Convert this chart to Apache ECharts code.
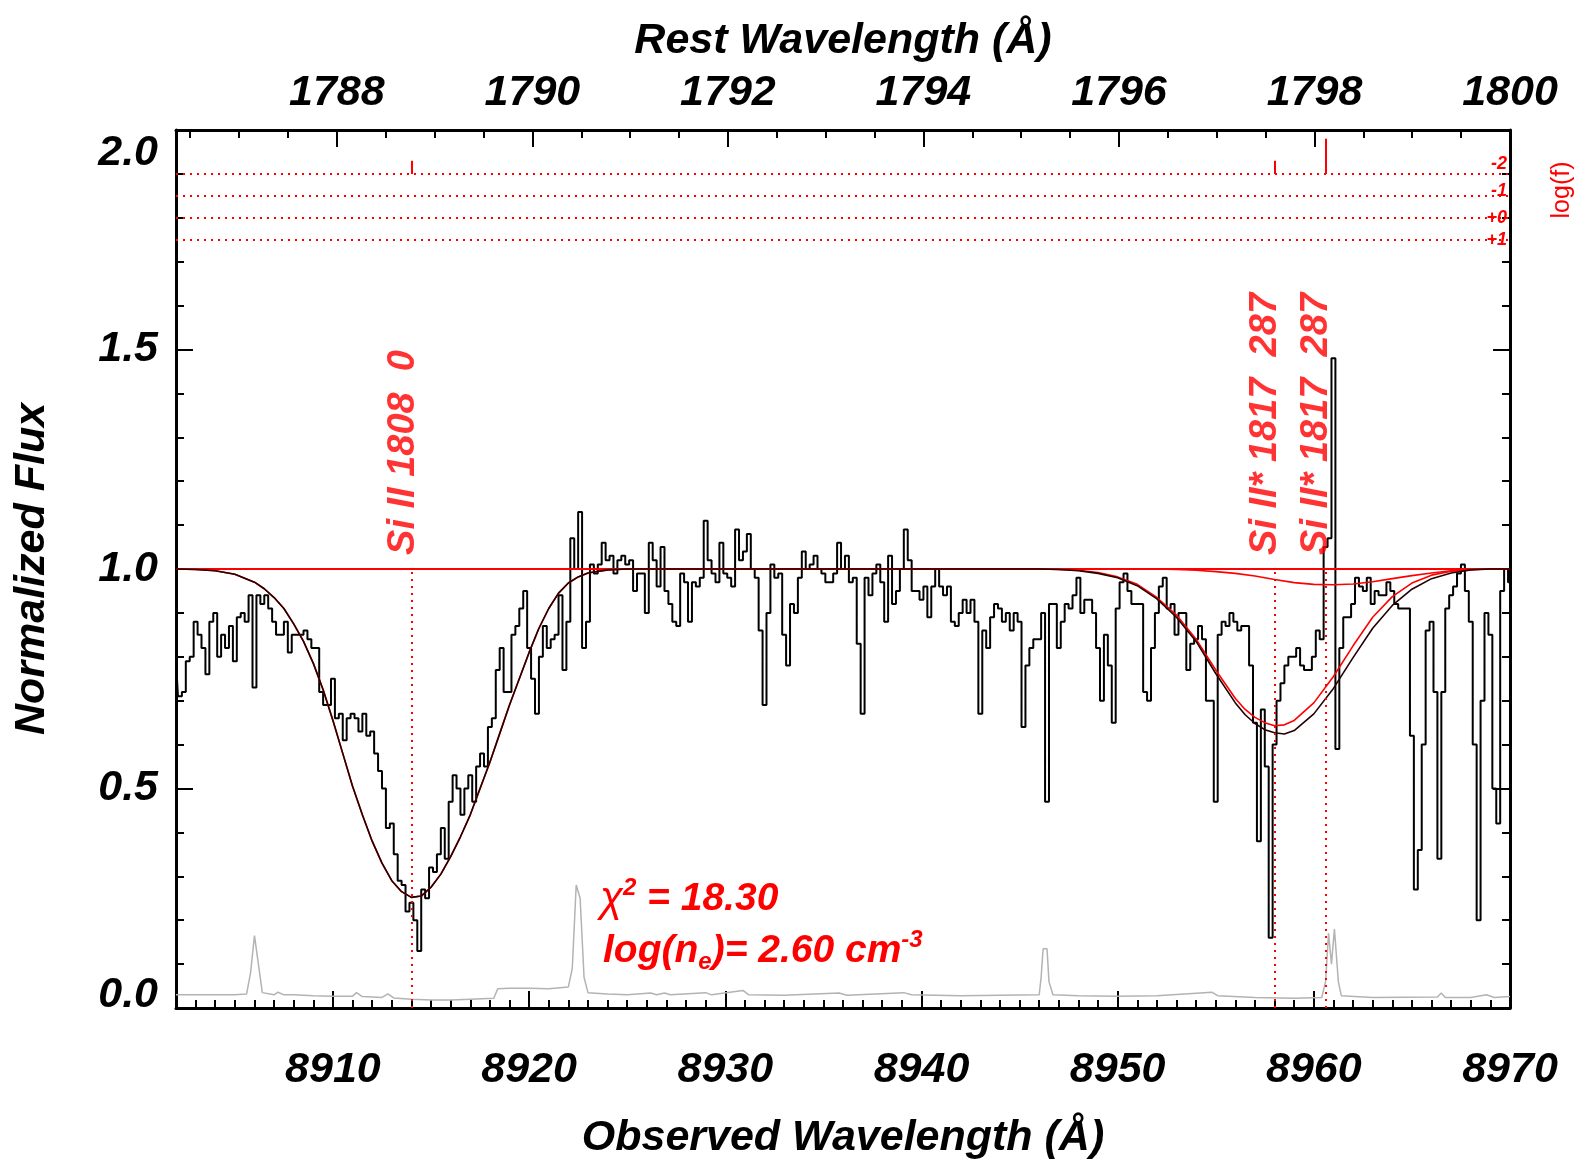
<!DOCTYPE html>
<html>
<head>
<meta charset="utf-8">
<title>Si II density fit</title>
<script src="https://cdn.jsdelivr.net/npm/echarts@6.0.0/dist/echarts.min.js"></script>
<style>
  html, body { margin: 0; padding: 0; background: #fff; }
  #chart { width: 1594px; height: 1174px; }
</style>
</head>
<body>
<div id="chart"></div>
<script>
// observed spectrum, normalized flux, 0.2 A pixels
const specWave = [
  8902.0, 8902.2, 8902.4, 8902.6, 8902.8, 8903.0, 8903.2, 8903.4, 8903.6, 8903.8,
  8904.0, 8904.2, 8904.4, 8904.6, 8904.8, 8905.0, 8905.2, 8905.4, 8905.6, 8905.8,
  8906.0, 8906.2, 8906.4, 8906.6, 8906.8, 8907.0, 8907.2, 8907.4, 8907.6, 8907.8,
  8908.0, 8908.2, 8908.4, 8908.6, 8908.8, 8909.0, 8909.2, 8909.4, 8909.6, 8909.8,
  8910.0, 8910.2, 8910.4, 8910.6, 8910.8, 8911.0, 8911.2, 8911.4, 8911.6, 8911.8,
  8912.0, 8912.2, 8912.4, 8912.6, 8912.8, 8913.0, 8913.2, 8913.4, 8913.6, 8913.8,
  8914.0, 8914.2, 8914.4, 8914.6, 8914.8, 8915.0, 8915.2, 8915.4, 8915.6, 8915.8,
  8916.0, 8916.2, 8916.4, 8916.6, 8916.8, 8917.0, 8917.2, 8917.4, 8917.6, 8917.8,
  8918.0, 8918.2, 8918.4, 8918.6, 8918.8, 8919.0, 8919.2, 8919.4, 8919.6, 8919.8,
  8920.0, 8920.2, 8920.4, 8920.6, 8920.8, 8921.0, 8921.2, 8921.4, 8921.6, 8921.8,
  8922.0, 8922.2, 8922.4, 8922.6, 8922.8, 8923.0, 8923.2, 8923.4, 8923.6, 8923.8,
  8924.0, 8924.2, 8924.4, 8924.6, 8924.8, 8925.0, 8925.2, 8925.4, 8925.6, 8925.8,
  8926.0, 8926.2, 8926.4, 8926.6, 8926.8, 8927.0, 8927.2, 8927.4, 8927.6, 8927.8,
  8928.0, 8928.2, 8928.4, 8928.6, 8928.8, 8929.0, 8929.2, 8929.4, 8929.6, 8929.8,
  8930.0, 8930.2, 8930.4, 8930.6, 8930.8, 8931.0, 8931.2, 8931.4, 8931.6, 8931.8,
  8932.0, 8932.2, 8932.4, 8932.6, 8932.8, 8933.0, 8933.2, 8933.4, 8933.6, 8933.8,
  8934.0, 8934.2, 8934.4, 8934.6, 8934.8, 8935.0, 8935.2, 8935.4, 8935.6, 8935.8,
  8936.0, 8936.2, 8936.4, 8936.6, 8936.8, 8937.0, 8937.2, 8937.4, 8937.6, 8937.8,
  8938.0, 8938.2, 8938.4, 8938.6, 8938.8, 8939.0, 8939.2, 8939.4, 8939.6, 8939.8,
  8940.0, 8940.2, 8940.4, 8940.6, 8940.8, 8941.0, 8941.2, 8941.4, 8941.6, 8941.8,
  8942.0, 8942.2, 8942.4, 8942.6, 8942.8, 8943.0, 8943.2, 8943.4, 8943.6, 8943.8,
  8944.0, 8944.2, 8944.4, 8944.6, 8944.8, 8945.0, 8945.2, 8945.4, 8945.6, 8945.8,
  8946.0, 8946.2, 8946.4, 8946.6, 8946.8, 8947.0, 8947.2, 8947.4, 8947.6, 8947.8,
  8948.0, 8948.2, 8948.4, 8948.6, 8948.8, 8949.0, 8949.2, 8949.4, 8949.6, 8949.8,
  8950.0, 8950.2, 8950.4, 8950.6, 8950.8, 8951.0, 8951.2, 8951.4, 8951.6, 8951.8,
  8952.0, 8952.2, 8952.4, 8952.6, 8952.8, 8953.0, 8953.2, 8953.4, 8953.6, 8953.8,
  8954.0, 8954.2, 8954.4, 8954.6, 8954.8, 8955.0, 8955.2, 8955.4, 8955.6, 8955.8,
  8956.0, 8956.2, 8956.4, 8956.6, 8956.8, 8957.0, 8957.2, 8957.4, 8957.6, 8957.8,
  8958.0, 8958.2, 8958.4, 8958.6, 8958.8, 8959.0, 8959.2, 8959.4, 8959.6, 8959.8,
  8960.0, 8960.2, 8960.4, 8960.6, 8960.8, 8961.0, 8961.2, 8961.4, 8961.6, 8961.8,
  8962.0, 8962.2, 8962.4, 8962.6, 8962.8, 8963.0, 8963.2, 8963.4, 8963.6, 8963.8,
  8964.0, 8964.2, 8964.4, 8964.6, 8964.8, 8965.0, 8965.2, 8965.4, 8965.6, 8965.8,
  8966.0, 8966.2, 8966.4, 8966.6, 8966.8, 8967.0, 8967.2, 8967.4, 8967.6, 8967.8,
  8968.0, 8968.2, 8968.4, 8968.6, 8968.8, 8969.0, 8969.2, 8969.4, 8969.6, 8969.8,
  8970.0
];
const specFlux = [
  0.79, 0.71, 0.72, 0.79, 0.80, 0.88, 0.85, 0.82, 0.76, 0.88,
  0.90, 0.80, 0.85, 0.82, 0.87, 0.79, 0.89, 0.90, 0.88, 0.94,
  0.73, 0.94, 0.92, 0.94, 0.91, 0.88, 0.85, 0.85, 0.88, 0.81,
  0.85, 0.85, 0.85, 0.86, 0.84, 0.82, 0.82, 0.72, 0.69, 0.69,
  0.75, 0.66, 0.67, 0.61, 0.66, 0.67, 0.66, 0.63, 0.67, 0.62,
  0.63, 0.58, 0.54, 0.50, 0.41, 0.42, 0.35, 0.29, 0.28, 0.22,
  0.24, 0.20, 0.13, 0.27, 0.25, 0.32, 0.31, 0.35, 0.41, 0.34,
  0.47, 0.53, 0.50, 0.44, 0.50, 0.53, 0.47, 0.55, 0.58, 0.55,
  0.64, 0.66, 0.77, 0.82, 0.72, 0.72, 0.85, 0.87, 0.91, 0.95,
  0.82, 0.75, 0.67, 0.80, 0.87, 0.82, 0.84, 0.85, 0.94, 0.77,
  0.88, 1.07, 1.00, 1.13, 0.82, 0.88, 1.01, 0.99, 1.01, 1.06,
  1.02, 1.03, 0.99, 1.02, 1.03, 1.01, 1.02, 0.95, 0.99, 0.99,
  0.90, 1.06, 1.02, 0.96, 1.05, 0.95, 0.92, 0.88, 0.87, 0.99,
  0.97, 0.88, 0.97, 0.96, 0.98, 1.11, 1.02, 0.99, 0.97, 1.06,
  0.99, 0.98, 0.96, 1.09, 1.02, 1.04, 1.08, 1.00, 0.98, 0.86,
  0.69, 0.90, 1.01, 0.98, 0.99, 0.85, 0.78, 0.92, 0.90, 0.98,
  1.04, 1.00, 1.01, 1.03, 1.00, 0.99, 0.97, 0.97, 0.99, 1.06,
  1.00, 1.03, 0.97, 0.98, 0.83, 0.67, 0.98, 0.94, 0.99, 1.01,
  0.97, 0.88, 1.03, 0.92, 0.95, 1.00, 1.09, 1.02, 0.95, 0.95,
  0.93, 0.96, 0.89, 0.96, 1.00, 0.96, 0.94, 0.96, 0.88, 0.87,
  0.90, 0.93, 0.90, 0.93, 0.88, 0.67, 0.86, 0.82, 0.89, 0.92,
  0.91, 0.88, 0.90, 0.86, 0.90, 0.88, 0.64, 0.78, 0.82, 0.84,
  0.84, 0.90, 0.47, 0.92, 0.92, 0.82, 0.88, 0.92, 0.91, 0.94,
  0.98, 0.90, 0.93, 0.93, 0.90, 0.82, 0.70, 0.85, 0.78, 0.65,
  0.91, 0.97, 0.99, 0.95, 0.92, 0.92, 0.92, 0.72, 0.70, 0.82,
  0.90, 0.96, 0.98, 0.91, 0.92, 0.85, 0.90, 0.90, 0.77, 0.83,
  0.84, 0.87, 0.84, 0.70, 0.70, 0.47, 0.85, 0.88, 0.87, 0.90,
  0.88, 0.86, 0.87, 0.87, 0.78, 0.65, 0.38, 0.68, 0.55, 0.16,
  0.60, 0.70, 0.74, 0.78, 0.80, 0.80, 0.82, 0.78, 0.77, 0.77,
  0.80, 0.86, 0.84, 1.05, 1.07, 1.48, 0.59, 0.82, 0.89, 0.89,
  0.92, 0.98, 0.96, 0.95, 0.98, 0.92, 0.95, 0.94, 0.94, 0.97,
  0.95, 0.92, 0.91, 0.91, 0.91, 0.62, 0.27, 0.36, 0.60, 0.86,
  0.88, 0.72, 0.34, 0.72, 0.91, 0.94, 0.96, 0.99, 1.01, 0.95,
  0.88, 0.60, 0.20, 0.70, 0.90, 0.85, 0.50, 0.42, 0.95, 1.00,
  0.97
];

// error spectrum (grey)
const errWave = [
  8902, 8903, 8904, 8905, 8905.6, 8905.8, 8906.0, 8906.2, 8906.4, 8907,
  8907.2, 8907.5, 8908, 8909, 8910, 8911, 8911.2, 8911.5, 8912.5, 8912.8,
  8913.1, 8914, 8915, 8916, 8917, 8918.2, 8918.4, 8919, 8920, 8921,
  8922.0, 8922.2, 8922.4, 8922.6, 8922.8, 8923.0, 8924, 8925, 8926.2, 8926.5,
  8926.9, 8927.2, 8929.0, 8929.3, 8930.9, 8931.2, 8933, 8935.8, 8936.2, 8939.1,
  8939.5, 8942, 8944, 8946.0, 8946.1, 8946.2, 8946.4, 8946.5, 8946.7, 8948,
  8950, 8952, 8954.8, 8955.1, 8957, 8959, 8960.4, 8960.6, 8960.75, 8960.9,
  8961.05, 8961.25, 8961.4, 8963, 8966.3, 8966.5, 8966.7, 8968, 8968.8, 8969.2,
  8970
];
const errFlux = [
  0.030, 0.030, 0.030, 0.030, 0.032, 0.080, 0.165, 0.100, 0.035, 0.030,
  0.036, 0.030, 0.030, 0.028, 0.027, 0.027, 0.035, 0.026, 0.024, 0.032,
  0.023, 0.020, 0.018, 0.018, 0.020, 0.022, 0.044, 0.045, 0.045, 0.044,
  0.048, 0.090, 0.280, 0.250, 0.070, 0.035, 0.032, 0.030, 0.034, 0.030,
  0.034, 0.030, 0.035, 0.030, 0.040, 0.030, 0.029, 0.034, 0.029, 0.035,
  0.030, 0.028, 0.029, 0.030, 0.070, 0.135, 0.135, 0.060, 0.030, 0.028,
  0.027, 0.028, 0.036, 0.028, 0.024, 0.022, 0.024, 0.060, 0.170, 0.100,
  0.180, 0.060, 0.028, 0.024, 0.025, 0.034, 0.024, 0.024, 0.030, 0.024,
  0.026
];

// continuum
const contWave = [8902, 8970];
const contFlux = [1.0, 1.0];

// Si II 1808 model component
const siWave = [
  8902, 8903, 8904, 8905, 8906, 8906.5, 8907, 8907.5, 8908, 8908.5,
  8909, 8909.5, 8910, 8910.5, 8911, 8911.5, 8912, 8912.5, 8913, 8913.5,
  8914, 8914.5, 8915, 8915.5, 8916, 8916.5, 8917, 8917.5, 8918, 8918.5,
  8919, 8919.5, 8920, 8920.5, 8921, 8921.5, 8922, 8922.5, 8923, 8924,
  8925
];
const siFlux = [
  1.000, 0.999, 0.996, 0.988, 0.970, 0.955, 0.935, 0.910, 0.875, 0.835,
  0.785, 0.725, 0.655, 0.580, 0.505, 0.440, 0.380, 0.330, 0.290, 0.265,
  0.252, 0.255, 0.275, 0.305, 0.345, 0.390, 0.440, 0.500, 0.560, 0.625,
  0.690, 0.750, 0.810, 0.865, 0.910, 0.945, 0.968, 0.982, 0.991, 0.998,
  1.000
];

// Si II* 1817 main component
const starWave = [
  8946, 8947, 8948, 8949, 8950, 8951, 8952, 8953, 8954, 8955,
  8956, 8956.5, 8957, 8957.5, 8958, 8958.5, 8959, 8960, 8961, 8962,
  8963, 8964, 8965, 8966, 8967, 8968, 8969, 8970
];
const starFlux = [
  1.000, 0.999, 0.997, 0.992, 0.982, 0.965, 0.935, 0.895, 0.840, 0.770,
  0.705, 0.680, 0.662, 0.650, 0.643, 0.645, 0.655, 0.695, 0.755, 0.825,
  0.890, 0.937, 0.968, 0.986, 0.995, 0.999, 1.000, 1.000
];
// total model over the Si II* region
const starTotalFlux = [
  1.000, 0.999, 0.996, 0.990, 0.980, 0.962, 0.932, 0.890, 0.835, 0.762,
  0.695, 0.668, 0.648, 0.634, 0.627, 0.624, 0.632, 0.670, 0.728, 0.798,
  0.865, 0.917, 0.954, 0.978, 0.991, 0.998, 1.000, 1.000
];

// Si II* 1817 weak component
const weakWave = [
  8952, 8953, 8954, 8955, 8956, 8957, 8958, 8959, 8960, 8961,
  8962, 8963, 8964, 8965, 8966, 8967, 8968, 8969, 8970
];
const weakFlux = [
  1.000, 0.999, 0.997, 0.994, 0.990, 0.984, 0.976, 0.969, 0.965, 0.964,
  0.966, 0.971, 0.978, 0.985, 0.991, 0.996, 0.999, 1.000, 1.000
];

// transitions
const lineWaves = [8914.04, 8958.01, 8960.6];
const lineLabels = ['Si II 1808  0', 'Si II* 1817  287', 'Si II* 1817  287'];
const lineTickTop = [1.93, 1.93, 1.98];
const fLevels = [1.90, 1.85, 1.80, 1.75];
const fLabels = ['-2', '-1', '+0', '+1'];

// axis ticks
const obsMajor = [8910, 8920, 8930, 8940, 8950, 8960, 8970];
const restMajor = [1788, 1790, 1792, 1794, 1796, 1798, 1800];
const zFactor = 8970 / 1800; // observed / rest

const xMin = 8902, xMax = 8970;
const RED = '#ff0000';
const FONT = '"Liberation Sans", Helvetica, Arial, sans-serif';

const obsMinor = [];
for (let w = 8903; w < xMax; w++) if (w % 10 !== 0) obsMinor.push(w);
const restMinor = [];
for (let r = 1786.5; r < 1800; r += 0.5) if (r % 2 !== 0) restMinor.push(r);

const zip = (a, b) => a.map((v, i) => [v, b[i]]);

const bigFont = { fontFamily: FONT, fontSize: 43, fontWeight: 'bold', fontStyle: 'italic', color: '#000' };
const tickLine = { color: '#000', width: 2 };
const axisLine = { show: true, onZero: false, lineStyle: { color: '#000', width: 3 } };
const fFont = { color: RED, fontFamily: FONT, fontSize: 18, fontWeight: 'bold', fontStyle: 'italic' };

const markData = [];
lineWaves.forEach((w, i) => {
  markData.push([{ coord: [w, 0] }, { coord: [w, 1] }]);
  markData.push([{ coord: [w, 1.9], lineStyle: { type: 'solid', width: 2 } }, { coord: [w, lineTickTop[i]] }]);
});
fLevels.forEach(l => markData.push({ yAxis: l }));

const chart = echarts.init(document.getElementById('chart'));

const option = {
  animation: false,
  backgroundColor: '#fff',
  textStyle: { fontFamily: FONT },
  grid: { left: 176, right: 84, top: 130, bottom: 166 },
  xAxis: [
    {
      type: 'value', position: 'bottom', min: xMin, max: xMax,
      name: 'Observed Wavelength (Å)', nameLocation: 'middle', nameGap: 109,
      nameTextStyle: bigFont,
      axisLine: axisLine,
      axisTick: { show: true, inside: true, length: 17, lineStyle: tickLine, customValues: obsMajor },
      axisLabel: Object.assign({}, bigFont, { margin: 41, customValues: obsMajor, formatter: v => String(v) }),
      splitLine: { show: false }
    },
    {
      type: 'value', position: 'top', min: xMin / zFactor, max: xMax / zFactor,
      name: 'Rest Wavelength (Å)', nameLocation: 'middle', nameGap: 67,
      nameTextStyle: bigFont,
      axisLine: axisLine,
      axisTick: { show: true, inside: true, length: 17, lineStyle: tickLine, customValues: restMajor },
      axisLabel: Object.assign({}, bigFont, { margin: 15, customValues: restMajor, formatter: v => String(v) }),
      splitLine: { show: false }
    },
    {
      type: 'value', position: 'bottom', min: xMin, max: xMax,
      axisLine: { show: false, onZero: false },
      axisTick: { show: true, inside: true, length: 8, lineStyle: tickLine, customValues: obsMinor },
      axisLabel: { show: false },
      splitLine: { show: false }
    },
    {
      type: 'value', position: 'top', min: xMin / zFactor, max: xMax / zFactor,
      axisLine: { show: false, onZero: false },
      axisTick: { show: true, inside: true, length: 8, lineStyle: tickLine, customValues: restMinor },
      axisLabel: { show: false },
      splitLine: { show: false }
    }
  ],
  yAxis: [
    {
      type: 'value', position: 'left', min: 0, max: 2, interval: 0.5,
      name: 'Normalized Flux', nameLocation: 'middle', nameGap: 122,
      nameTextStyle: bigFont,
      axisLine: axisLine,
      axisTick: { show: true, inside: true, length: 17, lineStyle: tickLine },
      minorTick: { show: true, splitNumber: 5, length: 8, lineStyle: tickLine },
      axisLabel: {
        margin: 18,
        formatter: v => v === 2 ? '{hi|2.0}' : (v === 0 ? '{lo|0.0}' : '{n|' + v.toFixed(1) + '}'),
        rich: {
          n: bigFont,
          hi: Object.assign({}, bigFont, { padding: [46, 0, 0, 0] }),
          lo: Object.assign({}, bigFont, { padding: [0, 0, 26, 0] })
        }
      },
      splitLine: { show: false }
    },
    {
      type: 'value', position: 'right', min: 0, max: 2, interval: 0.5,
      axisLine: axisLine,
      axisTick: { show: true, inside: true, length: 17, lineStyle: tickLine },
      minorTick: { show: true, splitNumber: 5, length: 8, lineStyle: tickLine },
      axisLabel: {
        show: true, inside: true, margin: 3, customValues: fLevels,
        formatter: v => {
          const i = fLevels.findIndex(l => Math.abs(l - v) < 1e-6);
          const key = ['u10', 'u5', 'u0', 'u0'][i];
          return '{' + key + '|' + fLabels[i] + '}';
        },
        rich: {
          u10: Object.assign({}, fFont, { padding: [0, 0, 20, 0] }),
          u5: Object.assign({}, fFont, { padding: [0, 0, 10, 0] }),
          u0: fFont
        }
      },
      splitLine: { show: false }
    }
  ],
  series: [
    {
      name: 'error', type: 'line', data: zip(errWave, errFlux), symbol: 'none',
      lineStyle: { color: '#b3b3b3', width: 1.5 }, z: 1
    },
    {
      name: 'spectrum', type: 'line', step: 'middle', data: zip(specWave, specFlux), symbol: 'none',
      lineStyle: { color: '#000', width: 2 }, z: 2
    },
    {
      name: 'continuum', type: 'line', data: zip(contWave, contFlux), symbol: 'none',
      lineStyle: { color: RED, width: 2 }, z: 3,
      markLine: {
        silent: true, symbol: ['none', 'none'], label: { show: false },
        lineStyle: { color: RED, width: 2, type: [2, 5] },
        data: markData
      }
    },
    {
      name: 'Si II', type: 'line', data: zip(siWave, siFlux), symbol: 'none',
      lineStyle: { color: RED, width: 1.6 }, z: 3
    },
    {
      name: 'Si II* main', type: 'line', data: zip(starWave, starFlux), symbol: 'none',
      lineStyle: { color: RED, width: 1.6 }, z: 3
    },
    {
      name: 'Si II* weak', type: 'line', data: zip(weakWave, weakFlux), symbol: 'none',
      lineStyle: { color: RED, width: 1.6 }, z: 3
    },
    {
      name: 'total', type: 'line', data: zip(siWave.concat(starWave), siFlux.concat(starTotalFlux)),
      symbol: 'none',
      lineStyle: { color: '#240000', width: 1.6 }, z: 4
    },
    {
      name: 'labels', type: 'scatter', data: lineWaves.map(w => [w, 1.032]),
      symbolSize: 1, itemStyle: { color: 'rgba(0,0,0,0)' }, silent: true, z: 5,
      label: {
        show: true, position: 'inside', rotate: 90, align: 'left', verticalAlign: 'bottom', lineHeight: 18,
        formatter: p => lineLabels[p.dataIndex],
        color: RED, fontFamily: FONT, fontSize: 38, fontWeight: 'bold', fontStyle: 'italic'
      }
    }
  ],
  graphic: [
    {
      type: 'text', x: 1562, y: 190, rotation: Math.PI / 2,
      style: { text: 'log(f)', fill: RED, fontFamily: FONT, fontSize: 25, align: 'center', verticalAlign: 'middle' }
    },
    {
      type: 'text', x: 600, y: 899,
      style: {
        text: '{chi|χ}{sup|2}{t| = 18.30}', align: 'left', verticalAlign: 'middle', fill: RED,
        rich: {
          chi: { fontFamily: FONT, fontSize: 42, fontStyle: 'italic', fill: RED, lineHeight: 46 },
          sup: { fontFamily: FONT, fontSize: 24, fontWeight: 'bold', fontStyle: 'italic', fill: RED, lineHeight: 14, verticalAlign: 'top' },
          t: { fontFamily: FONT, fontSize: 39, fontWeight: 'bold', fontStyle: 'italic', fill: RED, lineHeight: 46 }
        }
      }
    },
    {
      type: 'text', x: 603, y: 951,
      style: {
        text: '{t|log(n}{sub|e}{t|)= 2.60 cm}{sup|-3}', align: 'left', verticalAlign: 'middle', fill: RED,
        rich: {
          sub: { fontFamily: FONT, fontSize: 24, fontWeight: 'bold', fontStyle: 'italic', fill: RED, lineHeight: 14, verticalAlign: 'bottom' },
          sup: { fontFamily: FONT, fontSize: 24, fontWeight: 'bold', fontStyle: 'italic', fill: RED, lineHeight: 14, verticalAlign: 'top' },
          t: { fontFamily: FONT, fontSize: 39, fontWeight: 'bold', fontStyle: 'italic', fill: RED, lineHeight: 46 }
        }
      }
    }
  ]
};

chart.setOption(option);
</script>
</body>
</html>
